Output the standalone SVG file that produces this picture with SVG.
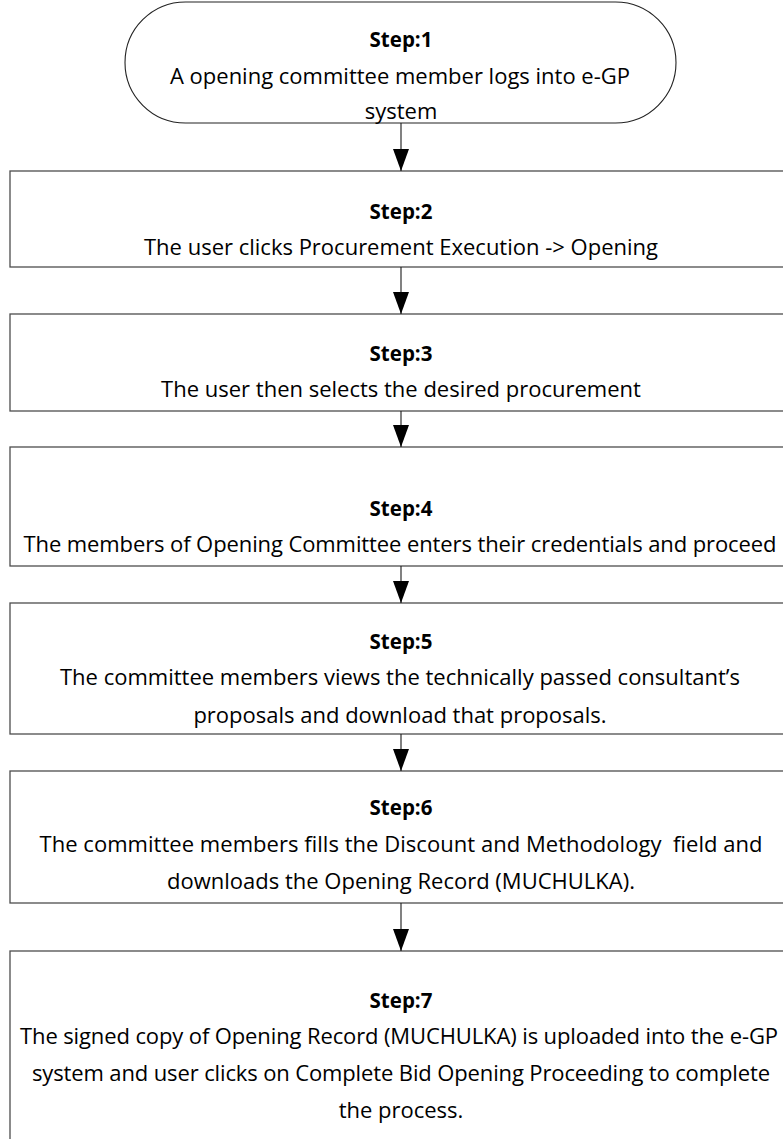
<svg xmlns="http://www.w3.org/2000/svg" width="783" height="1139" viewBox="0 0 783 1139">
  <style>
    .box { fill: #ffffff; stroke: #4d4d4d; stroke-width: 1.3; }
    .term { fill: #ffffff; stroke: #222222; stroke-width: 1.1; }
    .head { font-family: "Open Sans", "Noto Sans", sans-serif; font-weight: 700; font-size: 20.5px; fill: #000; text-anchor: middle; }
    .body { font-family: "Open Sans", "Noto Sans", sans-serif; font-size: 22px; fill: #000; text-anchor: middle; }
    .link { stroke: #1a1a1a; stroke-width: 1.1; fill: none; marker-end: url(#arrow); }
  </style>
  <defs>
    <marker id="arrow" viewBox="0 -8 22 16" refX="22" refY="0" markerWidth="22" markerHeight="16" markerUnits="userSpaceOnUse" orient="auto">
      <path d="M0,-8 L22,0 L0,8 Z" fill="#000"/>
    </marker>
  </defs>

  <rect width="783" height="1139" fill="#ffffff"/>

  <!-- Step 1: start terminator -->
  <g id="step1">
    <rect class="term" x="125" y="2" width="551" height="121" rx="60.5" ry="60.5"/>
    <text class="head" x="401" y="47">Step:1</text>
    <text class="body" x="400" y="84">A opening committee member logs into e-GP</text>
    <text class="body" x="401" y="119">system</text>
  </g>

  <!-- Step 2 -->
  <g id="step2">
    <rect class="box" x="10" y="171" width="790" height="96"/>
    <text class="head" x="401" y="219">Step:2</text>
    <text class="body" x="401" y="255">The user clicks Procurement Execution -&gt; Opening</text>
  </g>

  <!-- Step 3 -->
  <g id="step3">
    <rect class="box" x="10" y="314" width="790" height="97"/>
    <text class="head" x="401" y="361">Step:3</text>
    <text class="body" x="401" y="397">The user then selects the desired procurement</text>
  </g>

  <!-- Step 4 -->
  <g id="step4">
    <rect class="box" x="10" y="447" width="790" height="119"/>
    <text class="head" x="401" y="516">Step:4</text>
    <text class="body" x="400" y="552" textLength="753">The members of Opening Committee enters their credentials and proceed</text>
  </g>

  <!-- Step 5 -->
  <g id="step5">
    <rect class="box" x="10" y="603" width="790" height="131"/>
    <text class="head" x="401" y="649">Step:5</text>
    <text class="body" x="400" y="685" textLength="680">The committee members views the technically passed consultant’s</text>
    <text class="body" x="400" y="723">proposals and download that proposals.</text>
  </g>

  <!-- Step 6 -->
  <g id="step6">
    <rect class="box" x="10" y="771" width="790" height="132"/>
    <text class="head" x="401" y="815">Step:6</text>
    <text class="body" x="401" y="852" textLength="723" xml:space="preserve">The committee members fills the Discount and Methodology  field and</text>
    <text class="body" x="401" y="889">downloads the Opening Record (MUCHULKA).</text>
  </g>

  <!-- Step 7 -->
  <g id="step7">
    <rect class="box" x="10" y="951" width="790" height="200"/>
    <text class="head" x="401" y="1008">Step:7</text>
    <text class="body" x="399" y="1044" textLength="758">The signed copy of Opening Record (MUCHULKA) is uploaded into the e-GP</text>
    <text class="body" x="401" y="1081" textLength="738">system and user clicks on Complete Bid Opening Proceeding to complete</text>
    <text class="body" x="401" y="1118">the process.</text>
  </g>

  <!-- Connectors -->
  <g id="connectors">
    <line class="link" x1="401" y1="123" x2="401" y2="171"/>
    <line class="link" x1="401" y1="267" x2="401" y2="314"/>
    <line class="link" x1="401" y1="411" x2="401" y2="447"/>
    <line class="link" x1="401" y1="566" x2="401" y2="603"/>
    <line class="link" x1="401" y1="734" x2="401" y2="771"/>
    <line class="link" x1="401" y1="903" x2="401" y2="951"/>
  </g>
</svg>
